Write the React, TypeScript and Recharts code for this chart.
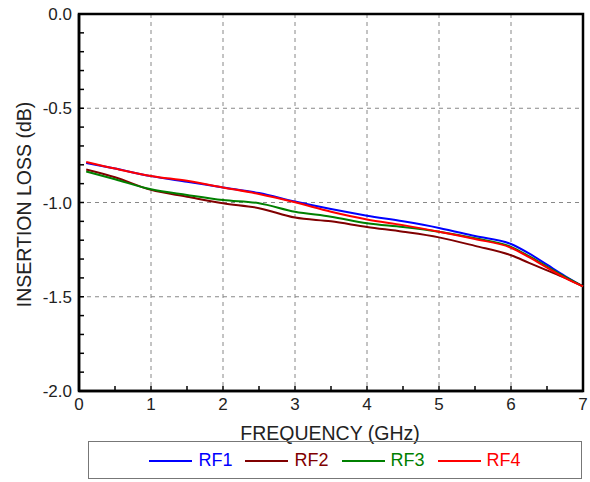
import React from 'react';
import { LineChart, Line, XAxis, YAxis, CartesianGrid, Legend, ReferenceArea } from 'recharts';

const freq = [0.1, 0.5, 1, 1.5, 2, 2.5, 3, 3.5, 4, 4.5, 5, 5.5, 6, 6.25, 6.5, 6.75, 7];
const rf1 = [-0.79, -0.82, -0.86, -0.89, -0.92, -0.95, -0.995, -1.035, -1.07, -1.1, -1.135, -1.178, -1.22, -1.27, -1.33, -1.39, -1.445];
const rf2 = [-0.825, -0.866, -0.933, -0.969, -1.004, -1.03, -1.08, -1.1, -1.13, -1.155, -1.185, -1.23, -1.28, -1.32, -1.36, -1.4, -1.445];
const rf3 = [-0.835, -0.877, -0.93, -0.96, -0.987, -1.004, -1.049, -1.075, -1.11, -1.13, -1.155, -1.19, -1.235, -1.285, -1.34, -1.395, -1.445];
const rf4 = [-0.785, -0.82, -0.859, -0.885, -0.92, -0.955, -0.999, -1.049, -1.09, -1.12, -1.155, -1.194, -1.24, -1.29, -1.345, -1.4, -1.445];

const xTicks = [0, 0.5, 1, 1.5, 2, 2.5, 3, 3.5, 4, 4.5, 5, 5.5, 6, 6.5, 7];
const yTicks = [0, -0.1, -0.2, -0.3, -0.4, -0.5, -0.6, -0.7, -0.8, -0.9, -1, -1.1, -1.2, -1.3, -1.4, -1.5, -1.6, -1.7, -1.8, -1.9, -2];
const xGrid = [1, 2, 3, 4, 5, 6];
const yGrid = [-0.5, -1, -1.5];

const series = [
  { key: 'rf1', name: 'RF1', color: '#0000ff' },
  { key: 'rf2', name: 'RF2', color: '#800000' },
  { key: 'rf3', name: 'RF3', color: '#008000' },
  { key: 'rf4', name: 'RF4', color: '#ff0000' },
];

const data = freq.map((f, i) => ({ f, rf1: rf1[i], rf2: rf2[i], rf3: rf3[i], rf4: rf4[i] }));

const FONT = '"Liberation Sans", Arial, sans-serif';
const tickStyle = { fontSize: 17, fill: '#222', fontFamily: FONT };
const axisLine = { stroke: '#000', strokeWidth: 2.5 };
const tickLine = { stroke: '#000', strokeWidth: 1.5 };

const fmtX = (v: number) => (Number.isInteger(v) ? String(v) : '');
const fmtY = (v: number) => (Math.abs(Math.round(v * 10) % 5) === 0 ? v.toFixed(1) : '');

const renderLegend = () => (
  <div
    style={{
      width: '100%',
      height: '100%',
      boxSizing: 'border-box',
      border: '1px solid #777',
      display: 'flex',
      alignItems: 'center',
      justifyContent: 'center',
      fontFamily: FONT,
      fontSize: 18,
      paddingTop: 1,
    }}
  >
    {series.map((s, i) => (
      <div key={s.key} style={{ display: 'flex', alignItems: 'center', marginLeft: i === 0 ? 0 : 13 }}>
        <div style={{ width: 43, height: 2, background: s.color, marginRight: 6 }} />
        <span style={{ color: s.color }}>{s.name}</span>
      </div>
    ))}
  </div>
);

export default function App() {
  return (
    <div style={{ position: 'fixed', left: 0, top: 0, width: 590, height: 482, background: '#fff' }}>
      <LineChart width={590} height={482} data={data} margin={{ top: 14, right: 7, left: 0, bottom: 41 }}>
        <CartesianGrid
          horizontalValues={yGrid}
          verticalValues={xGrid}
          stroke="#888"
          strokeDasharray="4 4"
        />
        <XAxis
          dataKey="f"
          type="number"
          domain={[0, 7]}
          ticks={xTicks}
          tickFormatter={fmtX}
          tickSize={-5}
          tickMargin={12}
          height={50}
          stroke="#000"
          axisLine={axisLine}
          tickLine={tickLine}
          tick={tickStyle}
          interval={0}
          label={{
            content: (p: any) => (
              <text
                x={p.viewBox.x + p.viewBox.width / 2 - 1}
                y={p.viewBox.y + 49}
                textAnchor="middle"
                fontSize={19.5}
                fontFamily={FONT}
                fill="#222"
              >
                FREQUENCY (GHz)
              </text>
            ),
          }}
        />
        <XAxis
          xAxisId="top"
          orientation="top"
          type="number"
          domain={[0, 7]}
          ticks={xTicks}
          tick={false}
          tickSize={-5}
          height={0}
          stroke="#000"
          axisLine={axisLine}
          tickLine={tickLine}
          interval={0}
        />
        <YAxis
          type="number"
          domain={[-2, 0]}
          ticks={yTicks}
          tickFormatter={fmtY}
          tickSize={-5}
          tickMargin={12}
          width={79}
          stroke="#000"
          axisLine={axisLine}
          tickLine={tickLine}
          tick={tickStyle}
          interval={0}
          label={{
            content: (p: any) => {
              const cx = 24;
              const cy = p.viewBox.y + p.viewBox.height / 2 + 2;
              return (
                <text
                  x={cx}
                  y={cy}
                  transform={`rotate(-90 ${cx} ${cy})`}
                  textAnchor="middle"
                  dominantBaseline="central"
                  fontSize={19.5}
                  fontFamily={FONT}
                  fill="#222"
                >
                  INSERTION LOSS (dB)
                </text>
              );
            },
          }}
        />
        <YAxis
          yAxisId="right"
          orientation="right"
          type="number"
          domain={[-2, 0]}
          ticks={yTicks}
          tick={false}
          tickSize={-5}
          width={0}
          stroke="#000"
          axisLine={axisLine}
          tickLine={tickLine}
          interval={0}
        />
        <ReferenceArea x1={0} x2={7} y1={-2} y2={0} fill="none" stroke="#000" strokeWidth={2.5} ifOverflow="visible" />
        <Legend
          layout="horizontal"
          verticalAlign="middle"
          align="center"
          content={renderLegend}
          wrapperStyle={{ position: 'absolute', left: 88, top: 441, width: 494, height: 38 }}
        />
        {series.map((s) => (
          <Line
            key={s.key}
            dataKey={s.key}
            name={s.name}
            type="monotone"
            stroke={s.color}
            strokeWidth={2}
            dot={false}
            isAnimationActive={false}
          />
        ))}
      </LineChart>
    </div>
  );
}
